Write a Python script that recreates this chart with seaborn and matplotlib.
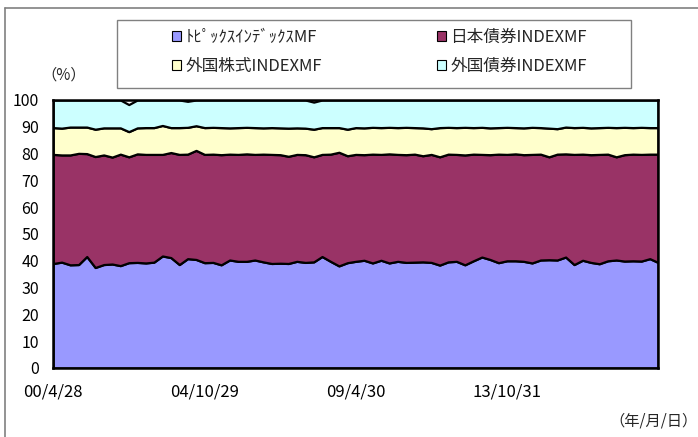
import matplotlib
matplotlib.use("Agg")
import matplotlib.pyplot as plt
from matplotlib.patches import Patch, Rectangle
from matplotlib.lines import Line2D
import numpy as np
import pandas as pd
import seaborn as sns

# quarterly month-end dates, 2000/4 .. 2018/4
dates = pd.date_range("2000-04-30", periods=73, freq="3ME")

# composition (%) of each fund
topix = [39.0, 39.5, 38.5, 38.6, 41.6, 37.5, 38.6, 38.8, 38.2, 39.3,
         39.4, 39.2, 39.5, 41.8, 41.2, 38.6, 40.8, 40.5, 39.3, 39.4,
         38.5, 40.3, 39.8, 39.8, 40.3, 39.6, 39.0, 39.1, 39.0, 39.8,
         39.4, 39.6, 41.6, 39.8, 38.1, 39.3, 39.8, 40.2, 39.2, 40.2,
         39.2, 39.8, 39.4, 39.5, 39.6, 39.4, 38.4, 39.6, 39.8, 38.5,
         40.0, 41.4, 40.5, 39.3, 40.0, 40.0, 39.8, 39.2, 40.3, 40.4,
         40.3, 41.4, 38.6, 40.2, 39.4, 38.9, 40.0, 40.3, 39.9, 40.0,
         39.9, 40.8, 39.4]
jp_bond = [40.7, 40.0, 41.0, 41.5, 38.4, 41.4, 40.9, 39.9, 41.6, 39.5,
           40.5, 40.5, 40.2, 37.9, 39.2, 41.1, 39.0, 40.7, 40.4, 40.4,
           41.1, 39.5, 39.9, 40.1, 39.4, 40.2, 40.7, 40.5, 40.0, 39.9,
           40.2, 39.2, 38.1, 40.0, 42.4, 39.9, 39.9, 39.4, 40.6, 39.5,
           40.7, 39.9, 40.2, 40.3, 39.6, 40.3, 40.4, 40.2, 39.9, 41.0,
           39.8, 38.3, 39.1, 40.5, 39.7, 39.9, 39.8, 40.5, 39.5, 38.4,
           39.5, 38.5, 41.1, 39.6, 40.2, 40.8, 39.8, 38.5, 39.7, 39.8,
           39.8, 39.0, 40.4]
fgn_stock = [10.0, 10.0, 10.4, 9.8, 9.9, 10.2, 10.1, 10.9, 9.8, 9.4,
             9.7, 10.0, 10.0, 10.8, 9.3, 10.0, 10.0, 9.2, 10.0, 10.0,
             10.1, 9.8, 10.0, 9.9, 10.0, 9.8, 10.0, 10.0, 10.5, 9.9,
             9.9, 10.3, 10.0, 9.9, 9.2, 9.9, 10.0, 10.0, 10.0, 10.0,
             9.9, 10.0, 10.2, 9.9, 10.4, 9.6, 10.9, 10.0, 10.0, 10.3,
             9.9, 10.1, 10.0, 9.9, 10.1, 9.8, 10.0, 10.1, 9.9, 10.7,
             9.5, 10.0, 10.0, 10.0, 10.0, 10.0, 10.0, 10.9, 10.2, 9.9,
             10.1, 9.9, 9.9]
fgn_bond = [10.3, 10.5, 10.1, 10.1, 10.1, 10.9, 10.4, 10.4, 10.4, 10.1,
            10.4, 10.3, 10.3, 9.5, 10.3, 10.3, 9.7, 9.6, 10.3, 10.2,
            10.3, 10.4, 10.3, 10.2, 10.3, 10.4, 10.3, 10.4, 10.5, 10.4,
            10.5, 10.1, 10.3, 10.3, 10.3, 10.9, 10.3, 10.4, 10.2, 10.3,
            10.2, 10.3, 10.2, 10.3, 10.4, 10.7, 10.3, 10.2, 10.3, 10.2,
            10.3, 10.2, 10.4, 10.3, 10.2, 10.3, 10.4, 10.2, 10.3, 10.5,
            10.7, 10.1, 10.3, 10.2, 10.4, 10.3, 10.2, 10.3, 10.2, 10.3,
            10.2, 10.3, 10.3]

labels = ["ﾄﾋﾟｯｸｽｲﾝﾃﾞｯｸｽMF", "日本債券INDEXMF", "外国株式INDEXMF", "外国債券INDEXMF"]
colors = ["#9999FF", "#993366", "#FFFFCC", "#CCFFFF"]

tick_dates = pd.to_datetime(["2000-04-28", "2004-10-29", "2009-04-30", "2013-10-31"])
tick_labels = ["00/4/28", "04/10/29", "09/4/30", "13/10/31"]

sns.set_theme(style="white")
plt.rcParams["font.family"] = ["Noto Sans CJK JP", "DejaVu Sans"]

fig = plt.figure(figsize=(6.98, 4.37), dpi=100)
ax = fig.add_axes([53 / 698, 1 - 368 / 437, 605 / 698, 268 / 437])

ax.stackplot(dates, topix, jp_bond, fgn_stock, fgn_bond,
             colors=colors, edgecolor="black", linewidth=1.6)

ax.set_xlim(dates[0], dates[-1])
ax.set_ylim(0, 100)
ax.set_yticks(np.arange(0, 101, 10))
ax.set_xticks(tick_dates)
ax.set_xticklabels(tick_labels)
ax.tick_params(axis="both", direction="in", length=4, width=0.8,
               colors="black", labelsize=11.5, left=True, bottom=True)
ax.tick_params(axis="y", pad=10)
ax.tick_params(axis="x", pad=11, labelsize=12)
for s in ax.spines.values():
    s.set_color("black")
    s.set_linewidth(1.8)

fig.text(64 / 698, 1 - 75 / 437, "（%）", fontsize=11, ha="center", va="center")
fig.text(698 / 698, 1 - 421 / 437, "（年/月/日）", fontsize=11, ha="right", va="center")

# legend: frame drawn separately, entries spread over two columns
fig.add_artist(Rectangle((117 / 698, 1 - 88 / 437), 514 / 698, 68 / 437,
                         transform=fig.transFigure, fill=False,
                         edgecolor="#808080", linewidth=1.0))
handles = [Patch(facecolor=c, edgecolor="black", linewidth=0.8) for c in colors]
order = [0, 2, 1, 3]
fig.legend([handles[i] for i in order], [labels[i] for i in order],
           ncol=2, loc="center", mode="expand",
           bbox_to_anchor=(172 / 698, 1 - 77 / 437, 415 / 698, 50 / 437),
           frameon=False, fontsize=12, handlelength=0.55, handleheight=0.55,
           handletextpad=0.25, labelspacing=0.7, borderpad=0,
           borderaxespad=0)

# outer frame of the figure
fig.add_artist(Line2D([5 / 698, 5 / 698], [0, 1 - 8 / 437], color="#808080", lw=1.2))
fig.add_artist(Line2D([5 / 698, 1], [1 - 8 / 437, 1 - 8 / 437], color="#808080", lw=1.2))

fig.savefig("out.png", dpi=100)
plt.close(fig)
